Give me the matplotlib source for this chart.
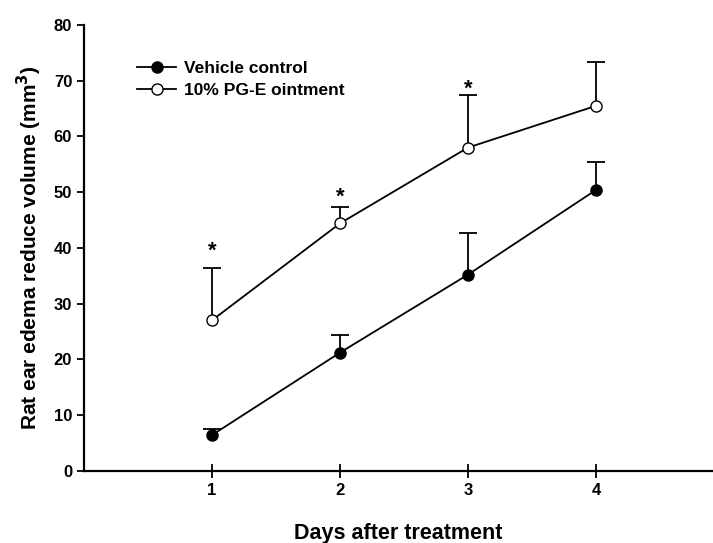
import matplotlib
matplotlib.use('Agg')
import matplotlib.pyplot as plt
from matplotlib.lines import Line2D

plt.rcParams['font.family'] = ['Liberation Sans', 'DejaVu Sans']
plt.rcParams['font.weight'] = 'bold'

days = [1, 2, 3, 4]
vehicle = [6.4, 21.2, 35.2, 50.4]
vehicle_err = [1.1, 3.2, 7.5, 5.0]
pge = [27.0, 44.4, 58.0, 65.5]
pge_err = [9.4, 2.9, 9.4, 7.9]
star_days = [1, 2, 3]
star_y = [39.4, 49.1, 68.4]

fig = plt.figure(figsize=(7.13, 5.43), dpi=100)
ax = fig.add_axes([0.1178, 0.1331, 0.8822, 0.8208])

# upper-only error bars, drawn by hand so there is no lower cap
for vals, errs in [(vehicle, vehicle_err), (pge, pge_err)]:
    tops = [v + e for v, e in zip(vals, errs)]
    ax.vlines(days, vals, tops, color='black', lw=1.3, zorder=2)
    ax.plot(days, tops, '_', color='black', ms=13, mew=1.3, zorder=2)

ax.plot(days, vehicle, '-o', color='black', mfc='black', mec='black', ms=8,
        lw=1.3, zorder=3)
ax.plot(days, pge, '-o', color='black', mfc='white', mec='black', ms=8,
        lw=1.3, zorder=3)

for d, y in zip(star_days, star_y):
    ax.text(d, y, '*', ha='center', va='center', fontsize=16, fontweight='bold')

ax.set_xlim(0, 629 / 128)
ax.set_ylim(0, 80)
ax.set_xticks(days)
ax.set_yticks(range(0, 81, 10))
ax.tick_params(axis='y', direction='out', length=5, width=1.3, labelsize=12)
ax.tick_params(axis='x', direction='inout', length=10, width=1.3, labelsize=12, pad=4)
for s in ['top', 'right']:
    ax.spines[s].set_visible(False)
for s in ['left', 'bottom']:
    ax.spines[s].set_linewidth(1.6)

ax.set_ylabel('Rat ear edema reduce volume (mm$^\\mathbf{3}$)', fontsize=15,
              fontweight='bold', labelpad=7)
ax.set_xlabel('Days after treatment', fontsize=15.5, fontweight='bold', labelpad=18)

handles = [
    Line2D([], [], color='black', lw=1.3, marker='o', ms=8, mfc='black', mec='black'),
    Line2D([], [], color='black', lw=1.3, marker='o', ms=8, mfc='white', mec='black'),
]
ax.legend(handles, ['Vehicle control', '10% PG-E ointment'], loc='upper left',
          bbox_to_anchor=(0.074, 0.935), frameon=False, fontsize=12.5,
          handlelength=2.2, handletextpad=0.5, labelspacing=0.4, borderaxespad=0)

fig.savefig('out.png', dpi=100)
